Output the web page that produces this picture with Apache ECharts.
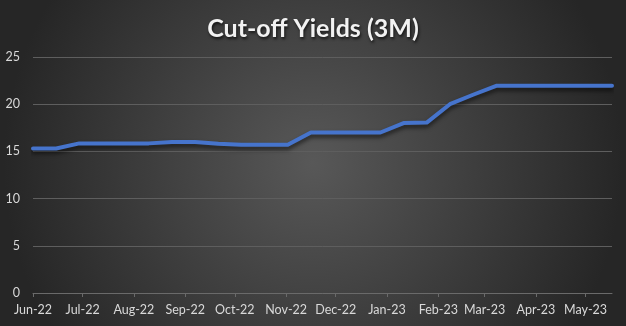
<!DOCTYPE html>
<html>
<head>
<meta charset="utf-8">
<script src="https://cdn.jsdelivr.net/npm/echarts@6/dist/echarts.min.js"></script>
<style>
  html, body { margin: 0; padding: 0; background: #3a3a3a; }
  #chart { width: 626px; height: 326px; }
</style>
</head>
<body>
<div id="chart"></div>
<script>
// Auction dates (fortnightly) and 3-month cut-off yields (%)
const auctionDates = [
  '2022-06-01', '2022-06-15', '2022-06-29', '2022-07-13', '2022-07-27',
  '2022-08-10', '2022-08-24', '2022-09-07', '2022-09-21', '2022-10-05',
  '2022-10-19', '2022-11-02', '2022-11-16', '2022-11-30', '2022-12-14',
  '2022-12-28', '2023-01-11', '2023-01-25', '2023-02-08', '2023-02-22',
  '2023-03-08', '2023-03-22', '2023-04-05', '2023-04-19', '2023-05-03',
  '2023-05-17'
];
const yields3M = [
  15.3, 15.3, 15.85, 15.85, 15.85,
  15.85, 16.0, 16.0, 15.8, 15.7,
  15.7, 15.7, 17.0, 17.0, 17.0,
  17.0, 18.0, 18.05, 20.0, 21.0,
  21.95, 21.95, 21.95, 21.95, 21.95,
  21.95
];
// Month ticks on the date axis
const monthTicks = [
  '2022-06-01', '2022-07-01', '2022-08-01', '2022-09-01', '2022-10-01',
  '2022-11-01', '2022-12-01', '2023-01-01', '2023-02-01', '2023-03-01',
  '2023-04-01', '2023-05-01'
];
const monthNames = ['Jan', 'Feb', 'Mar', 'Apr', 'May', 'Jun',
                    'Jul', 'Aug', 'Sep', 'Oct', 'Nov', 'Dec'];
const yTicks = [0, 5, 10, 15, 20, 25];

// Day number since the first auction, in whole days (UTC, so no DST drift)
function dayOf(s) {
  const p = s.split('-').map(Number);
  return Date.UTC(p[0], p[1] - 1, p[2]) / 86400000;
}
const day0 = dayOf(auctionDates[0]);
const tickDays = monthTicks.map(s => dayOf(s) - day0);
const seriesData = auctionDates.map((d, i) => [dayOf(d) - day0, yields3M[i]]);

function monthLabel(v) {
  const d = new Date((v + day0) * 86400000);
  return monthNames[d.getUTCMonth()] + '-' + String(d.getUTCFullYear()).slice(2);
}

const FONT = 'Lato, "Open Sans", sans-serif';
const chart = echarts.init(document.getElementById('chart'), null, { renderer: 'canvas' });
chart.setOption({
  animation: false,
  backgroundColor: {
    type: 'radial', x: 0.5, y: 0.5, r: 0.95,
    colorStops: [
      { offset: 0, color: '#585858' },
      { offset: 1, color: '#262626' }
    ]
  },
  title: {
    text: 'Cut-off Yields (3M)',
    left: 'center',
    top: 11,
    textStyle: {
      color: '#f2f2f2',
      fontFamily: FONT,
      fontWeight: 'bold',
      fontSize: 25,
      textShadowColor: 'rgba(0,0,0,0.7)',
      textShadowBlur: 3,
      textShadowOffsetX: 1,
      textShadowOffsetY: 2
    }
  },
  grid: { left: 33, right: 14, top: 57, bottom: 33, containLabel: false },
  xAxis: {
    type: 'value',
    min: seriesData[0][0],
    max: seriesData[seriesData.length - 1][0],
    axisLine: { show: true, onZero: false, lineStyle: { color: '#6a6a6a', width: 1 } },
    axisTick: {
      show: true, length: 4, customValues: tickDays,
      lineStyle: { color: '#6a6a6a' }
    },
    splitLine: { show: false },
    axisLabel: {
      customValues: tickDays,
      color: '#d9d9d9',
      fontFamily: FONT,
      fontSize: 12.5,
      margin: 10,
      formatter: monthLabel
    }
  },
  yAxis: {
    type: 'value',
    min: yTicks[0],
    max: yTicks[yTicks.length - 1],
    interval: 5,
    axisLine: { show: false },
    axisTick: { show: false },
    splitLine: { lineStyle: { color: '#5e5e5e', width: 1 } },
    axisLabel: {
      color: '#d9d9d9',
      fontFamily: FONT,
      fontSize: 12.5,
      margin: 13
    }
  },
  series: [{
    type: 'line',
    data: seriesData,
    showSymbol: false,
    symbol: 'none',
    lineStyle: {
      color: '#4674cc',
      width: 4,
      cap: 'round',
      join: 'round',
      shadowColor: 'rgba(0,0,0,0.6)',
      shadowBlur: 4,
      shadowOffsetY: 3
    }
  }]
});
</script>
</body>
</html>
